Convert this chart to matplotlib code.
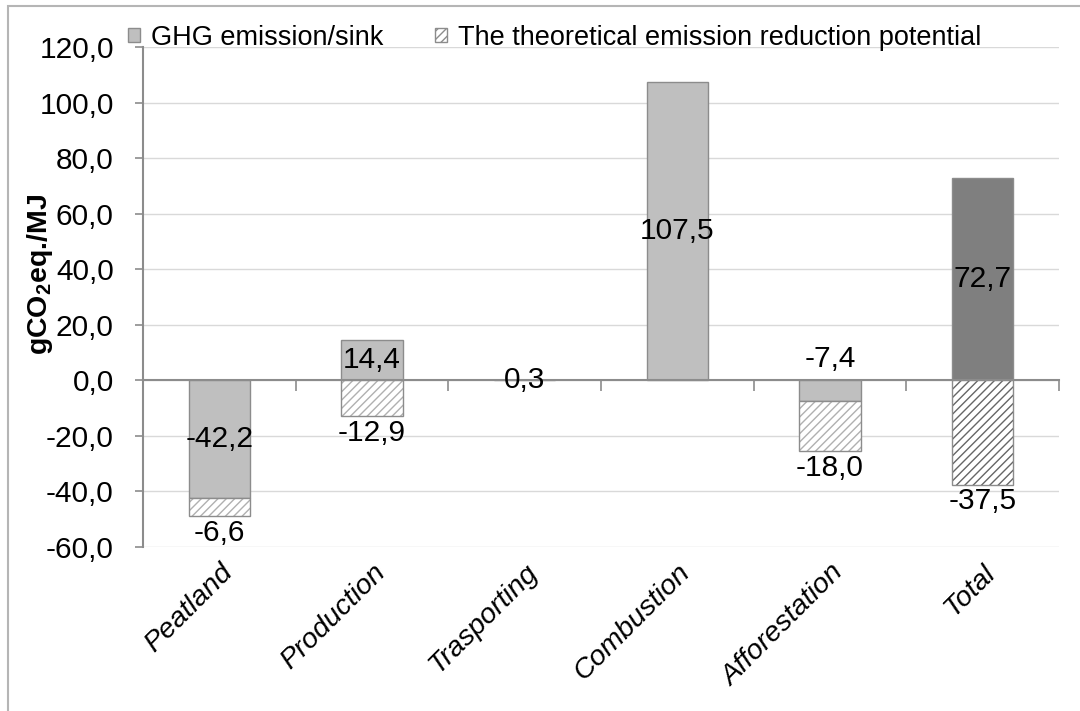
import numpy as np
import matplotlib
matplotlib.use("Agg")
import matplotlib.pyplot as plt
from matplotlib.patches import Patch, Rectangle
from matplotlib.ticker import FuncFormatter, MultipleLocator

plt.rcParams['font.family'] = ['Liberation Sans', 'DejaVu Sans']
plt.rcParams['mathtext.fontset'] = 'custom'
plt.rcParams['mathtext.rm'] = 'Liberation Sans'
plt.rcParams['mathtext.bf'] = 'Liberation Sans:bold'
plt.rcParams['hatch.linewidth'] = 1.0

# --- Data (gCO2eq./MJ) ---
categories = ["Peatland", "Production", "Trasporting", "Combustion", "Afforestation", "Total"]
emission = [-42.2, 14.4, 0.3, 107.5, -7.4, 72.7]
reduction = [-6.6, -12.9, 0.0, 0.0, -18.0, -37.5]
# reduction bar starts at the end of the emission bar when that one is negative
reduction_base = [-42.2, 0.0, 0.0, 0.0, -7.4, 0.0]

edge = "#8c8c8c"
fills = ["#bfbfbf"] * 5 + ["#7f7f7f"]
hatch_cols = ["#b0b0b0"] * 5 + ["#666666"]

fig = plt.figure(figsize=(10.8, 7.11), dpi=100)
ax = fig.add_axes([143 / 1080, 1 - 547 / 711, (1059 - 143) / 1080, (547 - 47) / 711])

x = np.arange(len(categories))
w = 0.4
ymin, ymax = -60, 120

# --- Bars ---
ax.bar(x, emission, width=w, color=fills, edgecolor=edge, linewidth=1.0, zorder=3)
has_red = [r != 0 for r in reduction]
xr = x[has_red]
red = np.array(reduction)[has_red]
base = np.array(reduction_base)[has_red]
hc = np.array(hatch_cols)[has_red]
for xi, ri, bi, ci in zip(xr, red, base, hc):
    ax.bar(xi, ri, bottom=bi, width=w, color="white", edgecolor=ci,
           hatch="////", linewidth=0, zorder=3)
ax.bar(xr, red, bottom=base, width=w, fill=False, edgecolor=edge, linewidth=1.0, zorder=4)

# --- Value labels ---
fs = 21.5
for xi, v in zip(x, emission):
    if v == -7.4:
        ax.annotate("-7,4", (xi, 0), xytext=(0, 5), textcoords="offset points",
                    ha="center", va="bottom", fontsize=fs, zorder=5)
    else:
        ax.text(xi, v / 2, f"{v:.1f}".replace(".", ","), ha="center", va="center",
                fontsize=fs, zorder=5)
for xi, ri, bi in zip(xr, red, base):
    ax.annotate(f"{ri:.1f}".replace(".", ","), (xi, bi + ri), xytext=(0, -2),
                textcoords="offset points", ha="center", va="top", fontsize=fs, zorder=5)

# --- Axes styling ---
ax.set_xlim(-0.5, len(categories) - 0.5)
ax.set_ylim(ymin, ymax)
ax.yaxis.set_major_locator(MultipleLocator(20))
ax.yaxis.set_major_formatter(FuncFormatter(lambda v, p: f"{v:.1f}".replace(".", ",")))
ax.grid(axis="y", color="#d9d9d9", linewidth=1.0, zorder=0)
ax.set_axisbelow(True)
for s in ["top", "right", "bottom"]:
    ax.spines[s].set_visible(False)
ax.spines["left"].set_color(edge)
ax.spines["left"].set_linewidth(1.5)
ax.tick_params(axis="y", length=6, width=1.2, color=edge, labelsize=21.5, pad=15)

ax.set_xticks(x)
ax.set_xticklabels(categories, rotation=45, ha="right", rotation_mode="anchor",
                   fontsize=20.5, style="italic")
ax.tick_params(axis="x", length=0, pad=9)

# zero line with ticks between categories
zero_frac = (0 - ymin) / (ymax - ymin)
sec = ax.secondary_xaxis(zero_frac)
sec.set_xticks(np.arange(-0.5, len(categories), 1.0))
sec.set_xticklabels([])
sec.spines["bottom"].set_color(edge)
sec.spines["bottom"].set_linewidth(1.5)
sec.tick_params(axis="x", length=8, width=1.2, color=edge, direction="out")
sec.set_zorder(4)

ax.set_ylabel(r"gCO$_\mathbf{2}$eq./MJ", fontsize=20.5, fontweight="bold")
ax.yaxis.set_label_coords(-0.096, 0.545)

# --- Legend ---
handles = [Patch(facecolor="#bfbfbf", edgecolor=edge),
           Patch(facecolor="white", edgecolor="#8c8c8c", hatch="////")]
fig.legend(handles, ["GHG emission/sink", "The theoretical emission reduction potential"],
           loc="upper left", bbox_to_anchor=(117 / 1080, 1 - 14 / 711), ncol=2,
           frameon=False, fontsize=19.5, handlelength=0.45, handleheight=0.45,
           handletextpad=0.4, columnspacing=1.9, borderaxespad=0)

# outer chart border
fig.patches.append(Rectangle((8 / 1080, -0.1), 1.2, 1 - 6 / 711 + 0.1, fill=False,
                             edgecolor="#b5b5b5", linewidth=1.5,
                             transform=fig.transFigure, figure=fig))

fig.savefig("out.png", dpi=100)
